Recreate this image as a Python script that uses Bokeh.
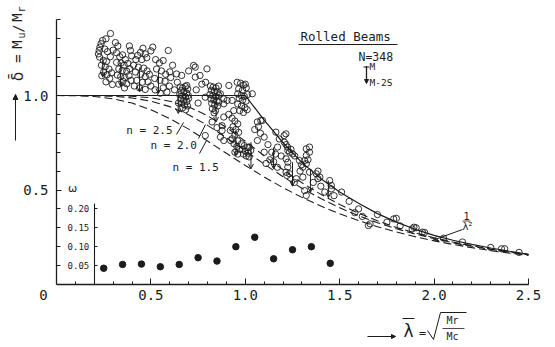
from bokeh.plotting import figure
from bokeh.models import (Range1d, LinearAxis, FixedTicker, ColumnDataSource, Arrow,
                          OpenHead, NormalHead, NumeralTickFormatter)
from bokeh.core.properties import value
from bokeh.embed import file_html
from bokeh.resources import INLINE
import math

# ---------------- data ----------------
# theoretical curves
lam_curve = [0.0, 0.1, 0.2, 0.3, 0.4, 0.5, 0.6, 0.7, 0.8, 0.9, 1.0, 1.1, 1.2, 1.3, 1.4,
             1.5, 1.6, 1.7, 1.8, 1.9, 2.0, 2.1, 2.2, 2.3, 2.4, 2.5]
del_n25 = [1.0, 1.0, 1.0, 0.999, 0.996, 0.988, 0.970, 0.940, 0.893, 0.831, 0.758, 0.681, 0.607,
           0.538, 0.477, 0.423, 0.377, 0.337, 0.302, 0.273, 0.247, 0.225, 0.205, 0.188, 0.173, 0.159]
del_n20 = [1.0, 1.0, 0.999, 0.996, 0.987, 0.970, 0.941, 0.898, 0.842, 0.777, 0.707, 0.637, 0.570,
           0.509, 0.455, 0.406, 0.364, 0.327, 0.295, 0.267, 0.243, 0.221, 0.202, 0.186, 0.171, 0.158]
del_n15 = [1.0, 0.999, 0.995, 0.982, 0.960, 0.924, 0.878, 0.822, 0.759, 0.694, 0.630, 0.569, 0.512,
           0.461, 0.415, 0.374, 0.338, 0.306, 0.278, 0.253, 0.231, 0.212, 0.195, 0.179, 0.166, 0.154]
lam_solid = [0.0, 1.0, 1.1, 1.2, 1.3, 1.4, 1.5, 1.6, 1.7, 1.8, 1.9, 2.0, 2.1, 2.2, 2.3, 2.4, 2.5]
del_solid = [1.0, 1.0, 0.87, 0.75, 0.645, 0.56, 0.49, 0.43, 0.375, 0.33, 0.292, 0.26, 0.234,
             0.212, 0.193, 0.176, 0.16]

# test results (N = 348)
pts = [
    # lambda 0.20-0.30
    (0.244, 1.291), (0.236, 1.274), (0.230, 1.256), (0.226, 1.238), (0.222, 1.220), (0.228, 1.203),
    (0.286, 1.328), (0.262, 1.300), (0.256, 1.246), (0.270, 1.232), (0.248, 1.186), (0.265, 1.180),
    (0.285, 1.205), (0.238, 1.160), (0.258, 1.152), (0.278, 1.140), (0.250, 1.125), (0.268, 1.110),
    (0.292, 1.120), (0.282, 1.090), (0.262, 1.072), (0.296, 1.058), (0.240, 1.105), (0.300, 1.240),
    # 0.30-0.40
    (0.312, 1.280), (0.325, 1.262), (0.318, 1.226), (0.335, 1.205), (0.350, 1.215), (0.365, 1.190),
    (0.342, 1.172), (0.358, 1.160), (0.378, 1.170), (0.330, 1.140), (0.348, 1.132), (0.372, 1.128),
    (0.388, 1.142), (0.322, 1.108), (0.340, 1.100), (0.362, 1.095), (0.384, 1.105), (0.352, 1.075),
    (0.372, 1.062), (0.395, 1.080), (0.330, 1.060), (0.360, 1.040), (0.386, 1.262), (0.392, 1.238),
    (0.398, 1.210), (0.318, 1.175),
    # 0.40-0.50
    (0.458, 1.250), (0.445, 1.228), (0.430, 1.212), (0.470, 1.220), (0.420, 1.190), (0.452, 1.190),
    (0.478, 1.200), (0.510, 1.256), (0.500, 1.236), (0.434, 1.150), (0.462, 1.145), (0.480, 1.130),
    (0.418, 1.124), (0.446, 1.112), (0.470, 1.100), (0.492, 1.112), (0.425, 1.080), (0.455, 1.070),
    (0.485, 1.072), (0.412, 1.050), (0.440, 1.040), (0.470, 1.032), (0.500, 1.050), (0.408, 1.160),
    # 0.50-0.62
    (0.525, 1.190), (0.545, 1.172), (0.565, 1.185), (0.592, 1.238), (0.530, 1.140), (0.556, 1.130),
    (0.578, 1.112), (0.600, 1.125), (0.520, 1.090), (0.548, 1.080), (0.575, 1.075), (0.605, 1.095),
    (0.565, 1.040), (0.522, 1.030), (0.598, 1.050), (0.550, 1.012), (0.585, 1.018), (0.615, 1.160),
    # 0.62-0.72
    (0.636, 1.114), (0.663, 1.106), (0.726, 1.159), (0.690, 1.053), (0.640, 1.070), (0.700, 1.130),
    (0.625, 1.030), (0.655, 1.045), (0.668, 1.040), (0.682, 1.048), (0.695, 1.035), (0.660, 1.025),
    (0.675, 1.020), (0.690, 1.012), (0.652, 1.005), (0.668, 0.998), (0.684, 0.992), (0.698, 1.000),
    (0.658, 0.982), (0.674, 0.975), (0.690, 0.968), (0.662, 0.958), (0.678, 0.950), (0.694, 0.945),
    (0.668, 0.935), (0.684, 0.925), (0.700, 0.985), (0.646, 0.960),
    # 0.72-0.90
    (0.735, 1.150), (0.735, 1.097), (0.760, 1.106), (0.797, 1.141), (0.788, 0.991), (0.740, 1.030),
    (0.770, 1.060), (0.750, 0.960), (0.790, 1.070), (0.815, 1.050), (0.830, 1.045), (0.845, 1.040),
    (0.858, 1.050), (0.820, 1.028), (0.836, 1.022), (0.852, 1.018), (0.812, 1.005), (0.828, 1.000),
    (0.844, 0.995), (0.860, 1.002), (0.818, 0.982), (0.834, 0.976), (0.850, 0.970), (0.822, 0.958),
    (0.838, 0.950), (0.854, 0.945), (0.826, 0.930), (0.842, 0.920), (0.835, 0.908), (0.860, 0.965),
    (0.877, 0.840), (0.850, 0.830), (0.824, 0.860), (0.788, 0.788), (0.868, 1.009), (0.886, 0.982),
    (0.886, 0.956), (0.877, 0.815), (0.868, 0.780), (0.886, 0.762),
    # 0.90-1.05
    (0.913, 1.053), (0.957, 1.070), (0.975, 1.065), (0.990, 1.055), (1.005, 1.040), (0.965, 1.035),
    (0.985, 1.028), (1.000, 1.060), (0.904, 0.974), (0.960, 1.009), (0.978, 1.000), (0.995, 0.995),
    (1.012, 1.005), (0.968, 0.985), (0.986, 0.975), (1.004, 0.970), (0.960, 0.955), (0.980, 0.945),
    (0.998, 0.935), (0.970, 0.920), (0.990, 0.910), (1.010, 0.925), (0.930, 0.974), (0.939, 0.920),
    (0.912, 0.900), (0.886, 0.886), (1.037, 1.009), (0.930, 0.880), (0.945, 0.865), (0.960, 0.850),
    (0.935, 0.835), (0.950, 0.820), (0.965, 0.805), (0.921, 0.815), (0.930, 0.771), (0.945, 0.790),
    (0.960, 0.760), (0.940, 0.745), (0.955, 0.730), (0.970, 0.715), (0.945, 0.700), (0.960, 0.690),
    (0.922, 0.762), (0.980, 0.745), (0.995, 0.735), (1.010, 0.725), (0.985, 0.715), (1.000, 0.705),
    (1.015, 0.695), (0.990, 0.690), (1.005, 0.680), (1.020, 0.727), (1.029, 0.709), (1.020, 0.675),
    # 1.05-1.20
    (1.064, 0.860), (1.082, 0.868), (1.070, 0.835), (1.091, 0.868), (1.064, 0.762), (1.080, 0.800),
    (1.100, 0.780), (1.050, 0.820), (1.120, 0.740), (1.162, 0.806), (1.171, 0.727), (1.140, 0.700),
    (1.160, 0.690), (1.130, 0.660), (1.150, 0.650), (1.180, 0.770), (1.110, 0.640), (1.190, 0.680),
    (1.170, 0.620), (1.100, 0.700),
    # 1.20-1.32
    (1.206, 0.788), (1.215, 0.797), (1.207, 0.753), (1.216, 0.740), (1.225, 0.709), (1.234, 0.700),
    (1.251, 0.691), (1.262, 0.680), (1.225, 0.647), (1.225, 0.621), (1.216, 0.594), (1.234, 0.586),
    (1.220, 0.577), (1.242, 0.715), (1.216, 0.665), (1.224, 0.727), (1.287, 0.656), (1.305, 0.621),
    (1.298, 0.634), (1.314, 0.656), (1.305, 0.568), (1.270, 0.560), (1.260, 0.540), (1.290, 0.600),
    # 1.32-1.50
    (1.323, 0.718), (1.340, 0.727), (1.323, 0.683), (1.332, 0.660), (1.323, 0.639), (1.340, 0.700),
    (1.376, 0.586), (1.395, 0.568), (1.340, 0.594), (1.385, 0.600), (1.314, 0.497), (1.323, 0.471),
    (1.385, 0.560), (1.447, 0.550), (1.456, 0.524), (1.456, 0.506), (1.421, 0.489), (1.400, 0.520),
    (1.470, 0.470), (1.360, 0.540),
    # 1.50-2.50
    (1.510, 0.489), (1.550, 0.440), (1.600, 0.400), (1.652, 0.312), (1.661, 0.321), (1.700, 0.370),
    (1.786, 0.347), (1.800, 0.350), (1.884, 0.294), (1.893, 0.303), (1.905, 0.300), (1.938, 0.277),
    (1.950, 0.275), (1.750, 0.330), (1.820, 0.310), (2.050, 0.245), (2.300, 0.196), (2.374, 0.189),
    (2.357, 0.189), (2.150, 0.225), (2.450, 0.170), (1.580, 0.380), (1.620, 0.360),
]
lam_pts = [a for a, b in pts]
del_pts = [b for a, b in pts]

# mean (M) and mean minus two standard deviations (M-2S) per lambda interval
lam_bin = [0.245, 0.34, 0.44, 0.54, 0.645, 0.845, 0.95, 1.03, 1.15, 1.25, 1.345, 1.44]
m_bin = [1.20, 1.176, 1.148, 1.122, 1.011, 1.01, 0.815, 0.753, 0.726, 0.647, 0.612, 0.55]
m2s_bin = [1.097, 1.048, 1.020, 1.011, 0.905, 0.86, 0.683, 0.612, 0.612, 0.52, 0.488, 0.46]

# coefficient of variation omega per interval
lam_w = [0.25, 0.35, 0.45, 0.55, 0.65, 0.75, 0.85, 0.95, 1.05, 1.15, 1.25, 1.35, 1.45]
omega = [0.043, 0.053, 0.054, 0.047, 0.053, 0.071, 0.062, 0.100, 0.125, 0.068, 0.092, 0.100, 0.056]

x_major = [0.5, 1.0, 1.5, 2.0, 2.5]
x_minor = [round(0.1 * i, 1) for i in range(1, 26)]
y_major = [0.5, 1.0]
y_minor = [round(0.1 * i, 1) for i in range(1, 15)]
w_major = [0.05, 0.10, 0.15, 0.20]

# ---------------- figure ----------------
W, H = 555, 347
X0, XS = 56.0, 188.8     # reference-pixel placement helpers for annotations
Y0, YS = 284.0, 189.0


def X(px):
    return (px - X0) / XS


def Y(py):
    return (Y0 - py) / YS


INK = "#1c1c1c"
FONT = "DejaVu Sans Mono"

p = figure(width=W, height=H, x_range=Range1d(X(0), X(W)), y_range=Range1d(Y(H), Y(0)),
           output_backend="svg", toolbar_location=None, min_border=0,
           x_axis_type=None, y_axis_type=None)
p.outline_line_color = None
p.background_fill_color = "white"
p.border_fill_color = "white"
p.extra_y_ranges = {"omega": Range1d(Y(H) / 2, Y(0) / 2)}


def style_axis(ax, size):
    ax.axis_line_color = INK
    ax.axis_line_width = 1.3
    ax.major_tick_line_color = INK
    ax.minor_tick_line_color = INK
    ax.major_tick_out = 0
    ax.minor_tick_out = 0
    ax.major_label_text_font = FONT
    ax.major_label_text_font_size = size
    ax.major_label_text_color = INK


xa = LinearAxis(fixed_location=0, bounds=(0, 2.5),
                ticker=FixedTicker(ticks=x_major, minor_ticks=x_minor),
                formatter=NumeralTickFormatter(format="0.0"))
style_axis(xa, "14px")
xa.major_tick_in = 6
xa.minor_tick_in = 3
xa.major_label_standoff = 5
p.add_layout(xa, "below")

ya = LinearAxis(fixed_location=0, bounds=(0, 1.4),
                ticker=FixedTicker(ticks=y_major, minor_ticks=y_minor),
                formatter=NumeralTickFormatter(format="0.0"))
style_axis(ya, "14px")
ya.major_tick_in = 5
ya.minor_tick_in = 4
ya.major_label_standoff = 8
p.add_layout(ya, "left")

wa = LinearAxis(fixed_location=0.2, y_range_name="omega", bounds=(0, 0.215),
                ticker=FixedTicker(ticks=w_major, minor_ticks=[]),
                formatter=NumeralTickFormatter(format="0.00"))
style_axis(wa, "9px")
wa.axis_line_width = 1.1
wa.major_tick_in = 3
wa.major_label_standoff = 5
p.add_layout(wa, "left")

# curves
p.line(lam_solid, del_solid, line_color=INK, line_width=1.2)
for ys in (del_n25, del_n20, del_n15):
    p.line(lam_curve, ys, line_color=INK, line_width=1.1, line_dash="8 4")

# scatter of test results
p.scatter(lam_pts, del_pts, marker="circle", size=6.3, fill_color=None, line_color=INK,
          line_width=0.9)

# M -> M-2S arrows
src = ColumnDataSource(dict(x=lam_bin, m=m_bin, m2s=m2s_bin))
p.add_layout(Arrow(end=OpenHead(size=5, line_width=1, line_color=INK), source=src,
                   x_start="x", y_start="m", x_end="x", y_end="m2s",
                   line_color=INK, line_width=1))

# omega dots
p.scatter(lam_w, omega, y_range_name="omega", marker="circle", size=6.5, color=INK)


def txt(px, py, s, size, align="left", baseline="middle", angle=0.0, font=FONT):
    p.text(x=[X(px)], y=[Y(py)], text=[s], text_font=value(font), text_font_size=value(size),
           text_align=align, text_baseline=baseline, angle=angle, text_color=INK)


def seg(pxs, pys, w=1.0):
    p.line([X(v) for v in pxs], [Y(v) for v in pys], line_color=INK, line_width=w)


# axis origin label
txt(43, 294, "0", "14px", align="center")

# y axis title (rotated) and arrow
A = math.pi / 2
txt(17, 76, "δ̄", "15px", align="center", angle=A, font="DejaVu Sans")
txt(17, 58, "=", "14px", align="center", angle=A)
txt(16, 44, "M", "14px", align="center", angle=A)
txt(21, 35, "u", "10px", align="center", angle=A)
txt(17, 28, "/", "14px", align="center", angle=A)
txt(16, 17, "M", "14px", align="center", angle=A)
txt(21, 9, "r", "10px", align="center", angle=A)
p.add_layout(Arrow(end=NormalHead(size=5, fill_color=INK, line_color=INK),
                   x_start=X(15), y_start=Y(140), x_end=X(15), y_end=Y(94),
                   line_color=INK, line_width=1))

# x axis title: -> lambda_bar = sqrt(Mr / Mc)
p.add_layout(Arrow(end=NormalHead(size=4, fill_color=INK, line_color=INK),
                   x_start=X(367), y_start=Y(336), x_end=X(395), y_end=Y(336),
                   line_color=INK, line_width=1))
txt(408, 330, "λ", "17px", align="center", font="DejaVu Sans")
seg([402, 414], [318, 318])
txt(422, 332, "=", "12px", align="center")
seg([427, 433, 440, 466], [330, 339, 312, 312])
txt(452, 320, "Mr", "10px", align="center")
seg([442, 464], [328, 328], 0.8)
txt(452, 336, "Mc", "10px", align="center")

# inset label
txt(72, 188, "ω", "11px", align="center", font="DejaVu Sans")

# legend block
txt(300, 35.5, "Rolled Beams", "12.5px")
seg([298, 397], [44, 44])
txt(358, 56, "N=348", "11.5px")
seg([363, 369], [66.5, 66.5])
p.add_layout(Arrow(end=NormalHead(size=4, fill_color=INK, line_color=INK),
                   x_start=X(366), y_start=Y(65.5), x_end=X(366), y_end=Y(83),
                   line_color=INK, line_width=1.3))
txt(369, 66, "M", "9.5px")
txt(369, 81.5, "M-2S", "9.5px")

# curve labels with leaders
txt(172, 130, "n = 2.5", "11px", align="right")
seg([176, 183], [134, 122])
txt(150, 145, "n = 2.0", "11px")
seg([198, 205], [138, 124])
txt(172, 167, "n = 1.5", "11px")
seg([199, 206], [153, 140])

# 1/lambda^2 label
txt(466, 215, "1", "10px", align="center")
seg([462, 470], [220.5, 220.5], 0.8)
txt(467, 226, "λ²", "10px", align="center", font="DejaVu Sans")
p.add_layout(Arrow(end=OpenHead(size=5, line_width=1, line_color=INK),
                   x_start=X(462), y_start=Y(229), x_end=X(433), y_end=Y(239.5),
                   line_color=INK, line_width=1))

open("out.html", "w").write(file_html(p, INLINE))
